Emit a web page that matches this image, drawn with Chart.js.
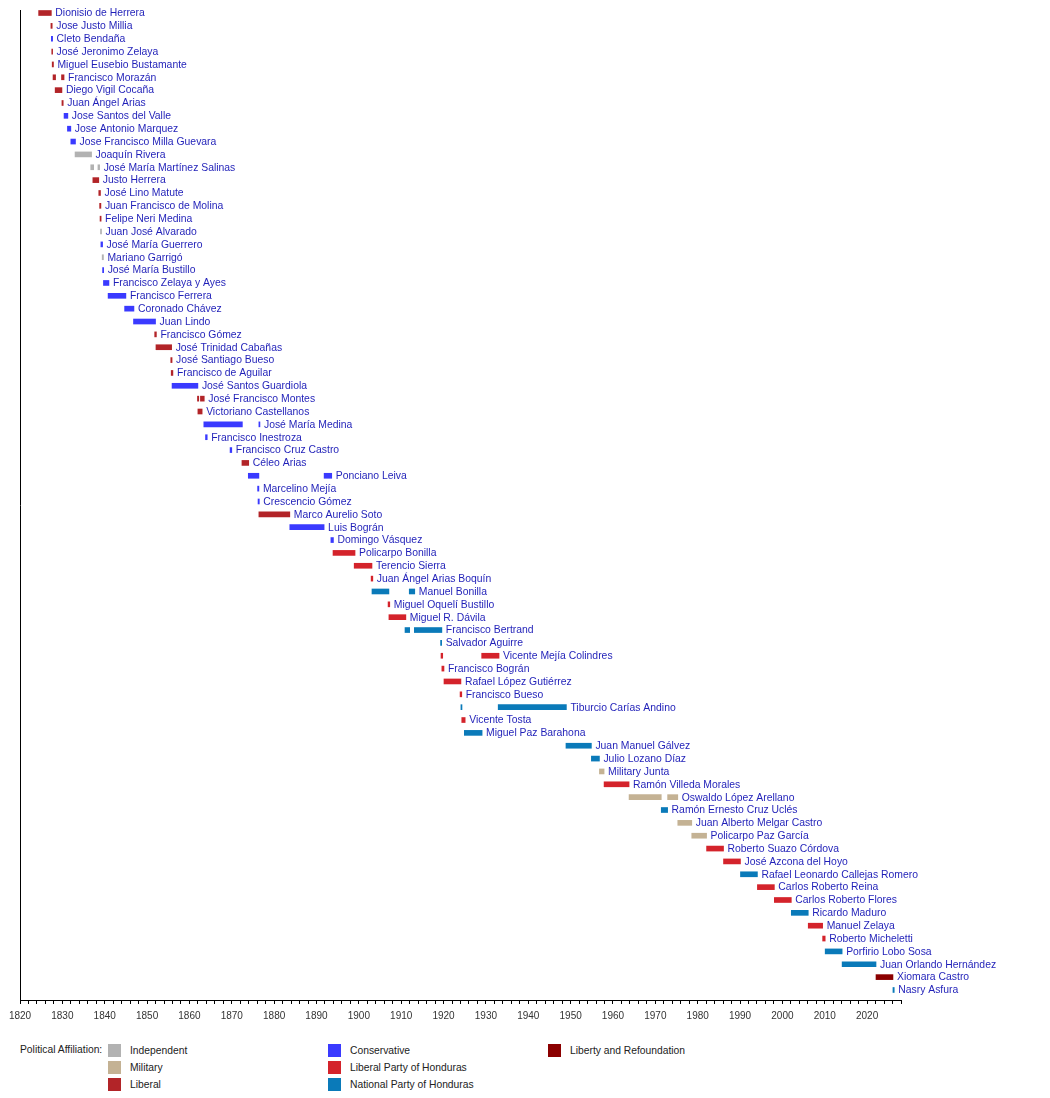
<!DOCTYPE html>
<html>
<head>
<meta charset="utf-8">
<script src="https://cdn.jsdelivr.net/npm/chart.js@4.4.1/dist/chart.umd.min.js"></script>
<style>
  body { margin: 0; background: #fff; font-family: "Liberation Sans", Arial, sans-serif; }
  #wrap { position: relative; width: 1050px; height: 1098px; }
  #timeline { position: absolute; left: 0; top: 0; }
  .legend-title { position: absolute; left: 20px; top: 1044px; font-size: 10.3px; color: #222; }
  .legend-item { position: absolute; font-size: 10.3px; color: #222; height: 14px; line-height: 14px; }
  .legend-item span.sw { position: absolute; left: 0; top: 0; width: 13px; height: 13px; }
  .legend-item span.tx { position: absolute; left: 22px; top: 0; white-space: nowrap; }
</style>
</head>
<body>
<div id="wrap">
  <canvas id="timeline" width="1050" height="1031"></canvas>
  <div class="legend-title">Political Affiliation:</div>
  <div id="legend"></div>
</div>
<script>
// presidents, top to bottom
const names = [
  'Dionisio de Herrera', 'Jose Justo Millia', 'Cleto Bendaña', 'José Jeronimo Zelaya',
  'Miguel Eusebio Bustamante', 'Francisco Morazán', 'Diego Vigil Cocaña', 'Juan Ángel Arias',
  'Jose Santos del Valle', 'Jose Antonio Marquez', 'Jose Francisco Milla Guevara', 'Joaquín Rivera',
  'José María Martínez Salinas', 'Justo Herrera', 'José Lino Matute', 'Juan Francisco de Molina',
  'Felipe Neri Medina', 'Juan José Alvarado', 'José María Guerrero', 'Mariano Garrigó',
  'José María Bustillo', 'Francisco Zelaya y Ayes', 'Francisco Ferrera', 'Coronado Chávez',
  'Juan Lindo', 'Francisco Gómez', 'José Trinidad Cabañas', 'José Santiago Bueso',
  'Francisco de Aguilar', 'José Santos Guardiola', 'José Francisco Montes', 'Victoriano Castellanos',
  'José María Medina', 'Francisco Inestroza', 'Francisco Cruz Castro', 'Céleo Arias',
  'Ponciano Leiva', 'Marcelino Mejía', 'Crescencio Gómez', 'Marco Aurelio Soto',
  'Luis Bográn', 'Domingo Vásquez', 'Policarpo Bonilla', 'Terencio Sierra',
  'Juan Ángel Arias Boquín', 'Manuel Bonilla', 'Miguel Oquelí Bustillo', 'Miguel R. Dávila',
  'Francisco Bertrand', 'Salvador Aguirre', 'Vicente Mejía Colindres', 'Francisco Bográn',
  'Rafael López Gutiérrez', 'Francisco Bueso', 'Tiburcio Carías Andino', 'Vicente Tosta',
  'Miguel Paz Barahona', 'Juan Manuel Gálvez', 'Julio Lozano Díaz', 'Military Junta',
  'Ramón Villeda Morales', 'Oswaldo López Arellano', 'Ramón Ernesto Cruz Uclés', 'Juan Alberto Melgar Castro',
  'Policarpo Paz García', 'Roberto Suazo Córdova', 'José Azcona del Hoyo', 'Rafael Leonardo Callejas Romero',
  'Carlos Roberto Reina', 'Carlos Roberto Flores', 'Ricardo Maduro', 'Manuel Zelaya',
  'Roberto Micheletti', 'Porfirio Lobo Sosa', 'Juan Orlando Hernández', 'Xiomara Castro',
  'Nasry Asfura'
];

// IND independent, MIL military, LIB liberal, CON conservative,
// PLH Liberal Party of Honduras, PNH National Party of Honduras, LIBRE Liberty and Refoundation
const parties = [
  'LIB', 'LIB', 'CON', 'LIB', 'LIB', 'LIB', 'LIB', 'LIB',
  'CON', 'CON', 'CON', 'IND', 'IND', 'LIB', 'LIB', 'LIB',
  'LIB', 'IND', 'CON', 'IND', 'CON', 'CON', 'CON', 'CON',
  'CON', 'LIB', 'LIB', 'LIB', 'LIB', 'CON', 'LIB', 'LIB',
  'CON', 'CON', 'CON', 'LIB', 'CON', 'CON', 'CON', 'LIB',
  'CON', 'CON', 'PLH', 'PLH', 'PLH', 'PNH', 'PLH', 'PLH',
  'PNH', 'PNH', 'PLH', 'PLH', 'PLH', 'PLH', 'PNH', 'PLH',
  'PNH', 'PNH', 'PNH', 'MIL', 'PLH', 'MIL', 'PNH', 'MIL',
  'MIL', 'PLH', 'PLH', 'PNH', 'PLH', 'PLH', 'PNH', 'PLH',
  'PLH', 'PNH', 'PNH', 'LIBRE', 'PNH'
];

// first term in office [from, to], years
const firstTerm = [
  [1824.4, 1827.4], [1827.3, 1827.6], [1827.4, 1827.7], [1827.5, 1827.7],
  [1827.6, 1827.9], [1827.8, 1828.4], [1828.3, 1829.9], [1829.9, 1830.2],
  [1830.4, 1831.3], [1831.2, 1832.0], [1832.0, 1833.1], [1833.0, 1836.9],
  [1836.7, 1837.4], [1837.2, 1838.6], [1838.6, 1839.0], [1838.8, 1839.1],
  [1838.9, 1839.15], [1839.0, 1839.25], [1839.1, 1839.5], [1839.4, 1839.7],
  [1839.5, 1839.75], [1839.7, 1841.0], [1840.8, 1845.0], [1844.7, 1846.9],
  [1846.8, 1852.0], [1851.8, 1852.2], [1852.1, 1855.8], [1855.6, 1855.9],
  [1855.7, 1856.1], [1855.9, 1862.0], [1861.9, 1862.2], [1862.0, 1863.0],
  [1863.4, 1872.5], [1863.8, 1864.2], [1869.6, 1870.0], [1872.4, 1874.0],
  [1873.9, 1876.4], [1876.1, 1876.4], [1876.2, 1876.5], [1876.4, 1883.7],
  [1883.7, 1891.8], [1893.4, 1894.0], [1893.9, 1899.1], [1898.9, 1903.1],
  [1902.9, 1903.3], [1903.1, 1907.1], [1906.9, 1907.3], [1907.1, 1911.1],
  [1910.9, 1912.0], [1919.3, 1919.55], [1919.4, 1919.8], [1919.6, 1920.1],
  [1920.1, 1924.1], [1923.9, 1924.3], [1924.1, 1924.35], [1924.3, 1925.1],
  [1924.9, 1929.1], [1948.9, 1954.9], [1954.9, 1956.8], [1956.8, 1957.9],
  [1957.9, 1963.8], [1963.8, 1971.4], [1971.4, 1972.9], [1975.3, 1978.6],
  [1978.6, 1982.1], [1982.1, 1986.1], [1986.1, 1990.1], [1990.1, 1994.1],
  [1994.1, 1998.1], [1998.1, 2002.1], [2002.1, 2006.1], [2006.1, 2009.5],
  [2009.5, 2010.1], [2010.1, 2014.1], [2014.1, 2022.1], [2022.1, 2026.1],
  [2026.1, 2026.4]
];

// second term, only for those who came back
const secondTerm = names.map(() => null);
secondTerm[5]  = [1829.8, 1830.4];   // Morazán
secondTerm[12] = [1838.4, 1838.8];   // Martínez Salinas
secondTerm[30] = [1862.6, 1863.5];   // Montes
secondTerm[32] = [1876.4, 1876.65];  // Medina
secondTerm[36] = [1891.8, 1893.6];   // Leiva
secondTerm[45] = [1911.9, 1913.2];   // Manuel Bonilla
secondTerm[48] = [1913.1, 1919.6];   // Bertrand
secondTerm[50] = [1929.0, 1933.1];   // Mejía Colindres
secondTerm[54] = [1932.9, 1949.0];   // Carías
secondTerm[61] = [1972.9, 1975.3];   // López Arellano

const legendKeys = ['IND', 'MIL', 'LIB', 'CON', 'PLH', 'PNH', 'LIBRE'];
const legendLabels = ['Independent', 'Military', 'Liberal', 'Conservative',
  'Liberal Party of Honduras', 'National Party of Honduras', 'Liberty and Refoundation'];

const partyColors = {
  IND: '#b2b2b2',
  MIL: '#c4b294',
  LIB: '#b22428',
  CON: '#3a3aff',
  PLH: '#d4232b',
  PNH: '#0a7ab9',
  LIBRE: '#8b0000'
};

// rows go on a numeric y scale so the top / bottom margins can differ
const rowPoints = terms => terms
  .map((t, i) => (t ? { y: i, x: t } : null))
  .filter(Boolean);

const rowColor = c => partyColors[parties[c.raw.y]];

// names written just right of each row's last bar
const nameLabels = {
  id: 'nameLabels',
  afterDatasetsDraw(chart) {
    const ctx = chart.ctx;
    const xs = chart.scales.x;
    const ys = chart.scales.y;
    ctx.save();
    ctx.font = '10.4px "Liberation Sans", Arial, sans-serif';
    ctx.fillStyle = '#1f1fb8';
    ctx.textBaseline = 'middle';
    names.forEach((n, i) => {
      const last = secondTerm[i] || firstTerm[i];
      ctx.fillText(n, xs.getPixelForValue(last[1]) + 4, ys.getPixelForValue(i) + 0.5);
    });
    ctx.restore();
  }
};

const ctx = document.getElementById('timeline').getContext('2d');
const timeline = new Chart(ctx, {
  type: 'bar',
  data: {
    datasets: [{
      data: rowPoints(firstTerm),
      backgroundColor: rowColor,
      barThickness: 5,
      grouped: false
    }, {
      data: rowPoints(secondTerm),
      backgroundColor: rowColor,
      barThickness: 5,
      grouped: false
    }]
  },
  options: {
    indexAxis: 'y',
    responsive: false,
    animation: false,
    layout: { padding: { left: 20, right: 149, top: 10, bottom: 3 } },
    plugins: {
      legend: { display: false },
      tooltip: { enabled: false }
    },
    scales: {
      y: {
        type: 'linear',
        reverse: true,
        offset: false,
        min: -0.234,
        max: 76.78,
        ticks: { display: false },
        grid: { display: false, offset: false },
        border: { display: true, color: '#000', width: 1 },
        afterFit: s => { s.width = 0; }
      },
      x: {
        type: 'linear',
        min: 1820,
        max: 2028,
        ticks: {
          stepSize: 2,
          autoSkip: false,
          maxRotation: 0,
          color: '#333',
          padding: 6,
          font: { family: '"Liberation Sans", Arial, sans-serif', size: 10 },
          callback: v => (v % 10 === 0 ? String(v) : '')
        },
        grid: {
          display: true,
          drawOnChartArea: false,
          drawTicks: true,
          tickLength: 4,
          color: '#000'
        },
        border: { display: true, color: '#000', width: 1 }
      }
    }
  },
  plugins: [nameLabels]
});

// legend below the chart, three columns
const legendBox = document.getElementById('legend');
const colX = [108, 328, 548];
legendKeys.forEach((k, i) => {
  const col = Math.floor(i / 3);
  const row = i % 3;
  const item = document.createElement('div');
  item.className = 'legend-item';
  item.style.left = colX[col] + 'px';
  item.style.top = (1044 + row * 17) + 'px';
  item.innerHTML = '<span class="sw" style="background:' + partyColors[k] + '"></span>' +
    '<span class="tx">' + legendLabels[i] + '</span>';
  legendBox.appendChild(item);
});
</script>
</body>
</html>
